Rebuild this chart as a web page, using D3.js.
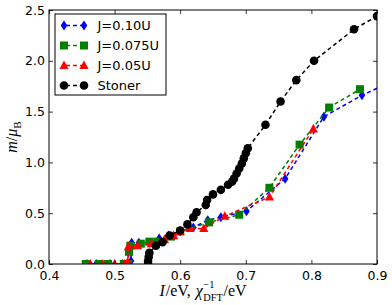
<!DOCTYPE html>
<html>
<head>
<meta charset="utf-8">
<script src="https://cdn.jsdelivr.net/npm/d3@7"></script>
<style>
  body { margin: 0; background: #fff; }
  svg { display: block; }
  .tick text { font-family: "DejaVu Sans", sans-serif; font-size: 12.5px; fill: #000; }
  .mathlbl { font-family: "Liberation Serif", serif; fill: #000; }
</style>
</head>
<body>
<svg id="chart" width="392" height="305"></svg>
<script>
// x = I (eV) or chi^-1 (eV), y = m / mu_B
const j10X = [0.458, 0.472, 0.493, 0.512, 0.522, 0.525, 0.526, 0.537, 0.553, 0.568, 0.582, 0.600, 0.620, 0.642, 0.662, 0.701, 0.760, 0.819, 0.877, 0.950];
const j10Y = [0.0, 0.0, 0.0, 0.0, 0.0, 0.03, 0.21, 0.21, 0.21, 0.25, 0.28, 0.32, 0.36, 0.43, 0.46, 0.52, 0.84, 1.45, 1.66, 1.88];

const j075X = [0.456, 0.476, 0.490, 0.514, 0.521, 0.522, 0.524, 0.540, 0.553, 0.565, 0.586, 0.600, 0.644, 0.690, 0.736, 0.782, 0.827, 0.874];
const j075Y = [0.0, 0.0, 0.0, 0.0, 0.0, 0.12, 0.18, 0.20, 0.22, 0.22, 0.27, 0.32, 0.41, 0.485, 0.75, 1.175, 1.54, 1.72];

const j05X = [0.463, 0.482, 0.500, 0.515, 0.520, 0.521, 0.535, 0.556, 0.576, 0.590, 0.600, 0.615, 0.636, 0.668, 0.736, 0.803];
const j05Y = [0.0, 0.0, 0.0, 0.0, 0.02, 0.17, 0.18, 0.20, 0.24, 0.28, 0.32, 0.35, 0.35, 0.47, 0.66, 1.33];

const stonerX = [0.551, 0.551, 0.552, 0.553, 0.563, 0.573, 0.584, 0.600, 0.611, 0.620, 0.625, 0.639, 0.641, 0.650, 0.662, 0.673, 0.679, 0.682, 0.686, 0.690, 0.694, 0.697, 0.700, 0.703, 0.730, 0.753, 0.777, 0.804, 0.865, 0.900];
const stonerY = [0.0, 0.03, 0.07, 0.11, 0.18, 0.215, 0.28, 0.33, 0.39, 0.46, 0.51, 0.58, 0.63, 0.685, 0.73, 0.78, 0.81, 0.84, 0.89, 0.94, 0.99, 1.04, 1.09, 1.14, 1.37, 1.60, 1.81, 2.00, 2.31, 2.44];

const xTicks = [0.4, 0.5, 0.6, 0.7, 0.8, 0.9];
const yTicks = [0.0, 0.5, 1.0, 1.5, 2.0, 2.5];

const seriesNames = ["J=0.10U", "J=0.075U", "J=0.05U", "Stoner"];

const svg = d3.select("#chart");
const margin = { top: 10, right: 15, bottom: 41, left: 49 };
const width = 392, height = 305;
const iw = width - margin.left - margin.right;
const ih = height - margin.top - margin.bottom;

const x = d3.scaleLinear().domain([0.4, 0.9]).range([0, iw]);
const y = d3.scaleLinear().domain([0, 2.5]).range([ih, 0]);

const g = svg.append("g").attr("transform", `translate(${margin.left},${margin.top})`);

g.append("defs").append("clipPath").attr("id", "clip")
  .append("rect").attr("width", iw).attr("height", ih);

// marker shapes, matplotlib style
const markers = {
  diamond: (s, cx, cy) => s.append("path")
      .attr("d", `M${cx},${cy - 5}L${cx + 3.3},${cy}L${cx},${cy + 5}L${cx - 3.3},${cy}Z`),
  square: (s, cx, cy) => s.append("rect")
      .attr("x", cx - 4).attr("y", cy - 4).attr("width", 8).attr("height", 8),
  triangle: (s, cx, cy) => s.append("path")
      .attr("d", `M${cx},${cy - 5}L${cx + 4.6},${cy + 3.6}L${cx - 4.6},${cy + 3.6}Z`),
  circle: (s, cx, cy) => s.append("circle").attr("cx", cx).attr("cy", cy).attr("r", 4.3)
};

const series = [
  { name: seriesNames[0], xs: j10X, ys: j10Y, color: "#0000ff", marker: "diamond" },
  { name: seriesNames[1], xs: j075X, ys: j075Y, color: "#008000", marker: "square" },
  { name: seriesNames[2], xs: j05X, ys: j05Y, color: "#ff0000", marker: "triangle" },
  { name: seriesNames[3], xs: stonerX, ys: stonerY, color: "#000000", marker: "circle" }
];

const line = d3.line().x(d => x(d[0])).y(d => y(d[1]));
const plot = g.append("g").attr("clip-path", "url(#clip)");

series.forEach(s => {
  const pts = s.xs.map((v, i) => [v, s.ys[i]]);
  plot.append("path")
    .datum(pts)
    .attr("d", line)
    .attr("fill", "none")
    .attr("stroke", s.color)
    .attr("stroke-width", 1.5)
    .attr("stroke-dasharray", "4,3");
  const mg = plot.append("g").attr("fill", s.color);
  pts.forEach(p => markers[s.marker](mg, x(p[0]), y(p[1])));
});

// axes with inward ticks on all four sides
const fmt = d3.format(".1f");
g.append("g").attr("transform", `translate(0,${ih})`)
  .call(d3.axisBottom(x).tickValues(xTicks).tickFormat(fmt).tickSizeInner(-4).tickSizeOuter(0).tickPadding(7));
g.append("g")
  .call(d3.axisTop(x).tickValues(xTicks).tickFormat("").tickSizeInner(-4).tickSizeOuter(0));
g.append("g")
  .call(d3.axisLeft(y).tickValues(yTicks).tickFormat(fmt).tickSizeInner(-4).tickSizeOuter(0).tickPadding(4));
g.append("g").attr("transform", `translate(${iw},0)`)
  .call(d3.axisRight(y).tickValues(yTicks).tickFormat("").tickSizeInner(-4).tickSizeOuter(0));
g.selectAll(".domain").remove();
g.selectAll(".tick line").attr("stroke", "#000").attr("stroke-width", 0.8);

g.append("rect").attr("width", iw).attr("height", ih)
  .attr("fill", "none").attr("stroke", "#000").attr("stroke-width", 1);

// legend
const leg = g.append("g").attr("transform", "translate(6,4)");
leg.append("rect").attr("width", 111).attr("height", 81)
  .attr("fill", "#fff").attr("stroke", "#000").attr("stroke-width", 1);
series.forEach((s, i) => {
  const cy = 11.5 + i * 20;
  leg.append("line").attr("x1", 9).attr("x2", 29).attr("y1", cy).attr("y2", cy)
    .attr("stroke", s.color).attr("stroke-width", 1.5).attr("stroke-dasharray", "4,3")
    .attr("stroke-dashoffset", -2);
  const mg = leg.append("g").attr("fill", s.color);
  markers[s.marker](mg, 9, cy);
  markers[s.marker](mg, 29, cy);
  leg.append("text").attr("x", 42.5).attr("y", cy + 4.7)
    .attr("font-family", "DejaVu Sans, sans-serif").attr("font-size", 13)
    .text(s.name);
});

// math-style text made of pieces; a "stack" piece does not advance the cursor
function mathText(parent, pieces, size) {
  const t = parent.append("g");
  let cx = 0;
  pieces.forEach(p => {
    const el = t.append("text").attr("class", "mathlbl")
      .attr("x", cx).attr("y", p.dy || 0)
      .attr("font-size", size * (p.scale || 1))
      .attr("font-style", p.italic ? "italic" : "normal")
      .text(p.s);
    const w = el.node().getComputedTextLength();
    if (!p.stack) cx += w + (p.gap || 0);
  });
  return { node: t, width: cx };
}

// x label: I/eV, chi_DFT^-1/eV
const xl = svg.append("g");
const xt = mathText(xl, [
  { s: "I", italic: true, gap: 1 },
  { s: "/eV,", gap: 5 },
  { s: "χ", italic: true, gap: 0.5 },
  { s: "−1", scale: 0.65, dy: -8, stack: true },
  { s: "DFT", scale: 0.65, dy: 5, gap: 0.5 },
  { s: "/eV" }
], 16);
xl.attr("transform", `translate(${203 - xt.width / 2},296)`);

// y label: m/mu_B
const yl = svg.append("g");
const yt = mathText(yl, [
  { s: "m", italic: true },
  { s: "/" },
  { s: "μ", italic: true },
  { s: "B", scale: 0.7, dy: 4 }
], 16);
yl.attr("transform", `translate(17,${margin.top + ih / 2 + yt.width / 2}) rotate(-90)`);
</script>
</body>
</html>
